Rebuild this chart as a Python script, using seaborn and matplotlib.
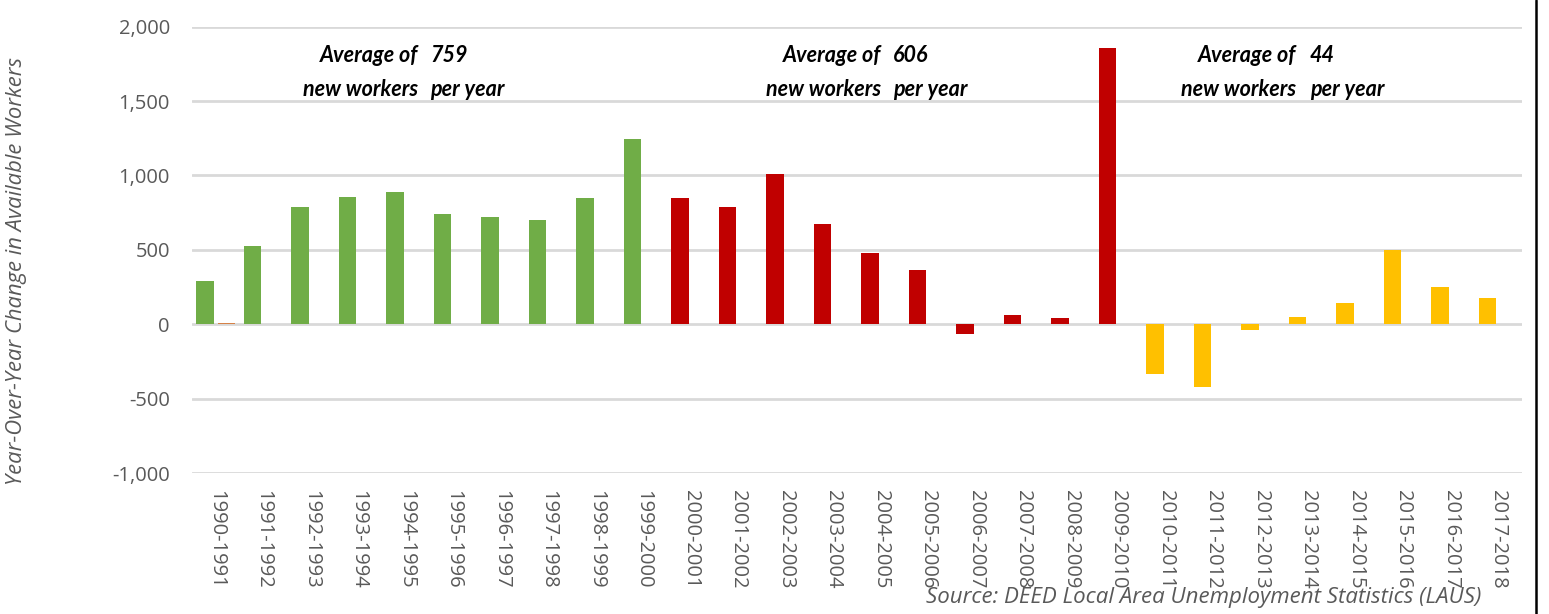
import matplotlib
matplotlib.use("Agg")
import matplotlib.pyplot as plt
import pandas as pd
import seaborn as sns
from matplotlib.lines import Line2D

# ---------------- data ----------------
periods = ["1990-1991", "1991-1992", "1992-1993", "1993-1994", "1994-1995",
           "1995-1996", "1996-1997", "1997-1998", "1998-1999", "1999-2000",
           "2000-2001", "2001-2002", "2002-2003", "2003-2004", "2004-2005",
           "2005-2006", "2006-2007", "2007-2008", "2008-2009", "2009-2010",
           "2010-2011", "2011-2012", "2012-2013", "2013-2014", "2014-2015",
           "2015-2016", "2016-2017", "2017-2018"]
change = [290, 523, 786, 854, 887, 739, 719, 699, 847, 1245,
          847, 786, 1009, 672, 477, 362, -65, 65, 45, 1856,
          -334, -424, -40, 50, 146, 497, 248, 178]
other = [6, 0, 0, 0, 0, 0, 0, 0, 0, 0,
         0, 0, 0, 0, 0, 0, 0, 0, 0, 0,
         0, 0, 0, 0, 0, 0, 0, 0]
era = ["1990s"] * 10 + ["2000s"] * 10 + ["2010s"] * 8
era_colors = {"1990s": "#70AD47", "2000s": "#C00000", "2010s": "#FFC000"}
averages = ["759", "606", "44"]
y_ticks = [-1000, -500, 0, 500, 1000, 1500, 2000]

# ---------------- figure ----------------
W, H = 1549, 614
sns.set_style("white")
plt.rcParams["font.family"] = ["Open Sans", "DejaVu Sans"]

fig = plt.figure(figsize=(W / 100, H / 100), dpi=100)
ax = fig.add_axes([192 / W, 1 - 473 / H, (1522 - 192) / W, (473 - 26.7) / H])

df = pd.DataFrame({
    "period": periods * 2,
    "value": change + other,
    "series": ["main"] * len(periods) + ["other"] * len(periods),
})

sns.barplot(data=df, x="period", y="value", hue="series",
            hue_order=["main", "other"], order=periods,
            palette={"main": "#70AD47", "other": "#ED7D31"},
            width=0.905, gap=0.163, dodge=True, errorbar=None,
            legend=False, linewidth=0, ax=ax)

# colour the main series by era
for bar in ax.containers[0]:
    idx = int(round(bar.get_x() + bar.get_width() / 2))
    bar.set_facecolor(era_colors[era[idx]])

ax.set_ylim(-1000, 2000)
ax.set_yticks(y_ticks)
ax.set_yticklabels([f"{v:,}" for v in y_ticks])
ax.set_xlim(-0.5, len(periods) - 0.5)
ax.yaxis.grid(True, color="#d9d9d9", linewidth=2)
ax.xaxis.grid(False)
ax.set_axisbelow(True)
for s in ax.spines.values():
    s.set_visible(False)
ax.tick_params(axis="y", length=0, pad=16, labelsize=14.5, labelcolor="#595959")
ax.tick_params(axis="x", length=0, pad=12, labelsize=14.5, labelcolor="#595959")
for lbl in ax.get_xticklabels():
    lbl.set_rotation(270)
    lbl.set_va("top")
    lbl.set_ha("center")
ax.set_xlabel("")
ax.set_ylabel("")

# y axis title
fig.text(17 / W, 1 - 271 / H, "Year-Over-Year Change in Available Workers",
         rotation=90, ha="center", va="center", fontsize=15.8,
         style="italic", color="#595959")

# annotations
ann_font = dict(family=["Lato", "DejaVu Sans"], fontsize=15.5,
                fontweight="bold", style="italic", color="black")
splits = [(418, 430), (881, 893), (1296, 1310)]
for (xr, xl), avg in zip(splits, averages):
    fig.text(xr / W, 1 - 55 / H, "Average of", ha="right", va="center", **ann_font)
    fig.text(xl / W, 1 - 55 / H, avg, ha="left", va="center", **ann_font)
    fig.text(xr / W, 1 - 90 / H, "new workers", ha="right", va="center", **ann_font)
    fig.text(xl / W, 1 - 90 / H, "per year", ha="left", va="center", **ann_font)

# source
fig.text(1481 / W, 1 - 597 / H,
         "Source: DEED Local Area Unemployment Statistics (LAUS)",
         ha="right", va="center", fontsize=16, style="italic", color="#595959")

# right border line
fig.add_artist(Line2D([1535.5 / W, 1535.5 / W], [0, 1], transform=fig.transFigure,
                      color="black", linewidth=1.8))

fig.savefig("out.png", dpi=100)
